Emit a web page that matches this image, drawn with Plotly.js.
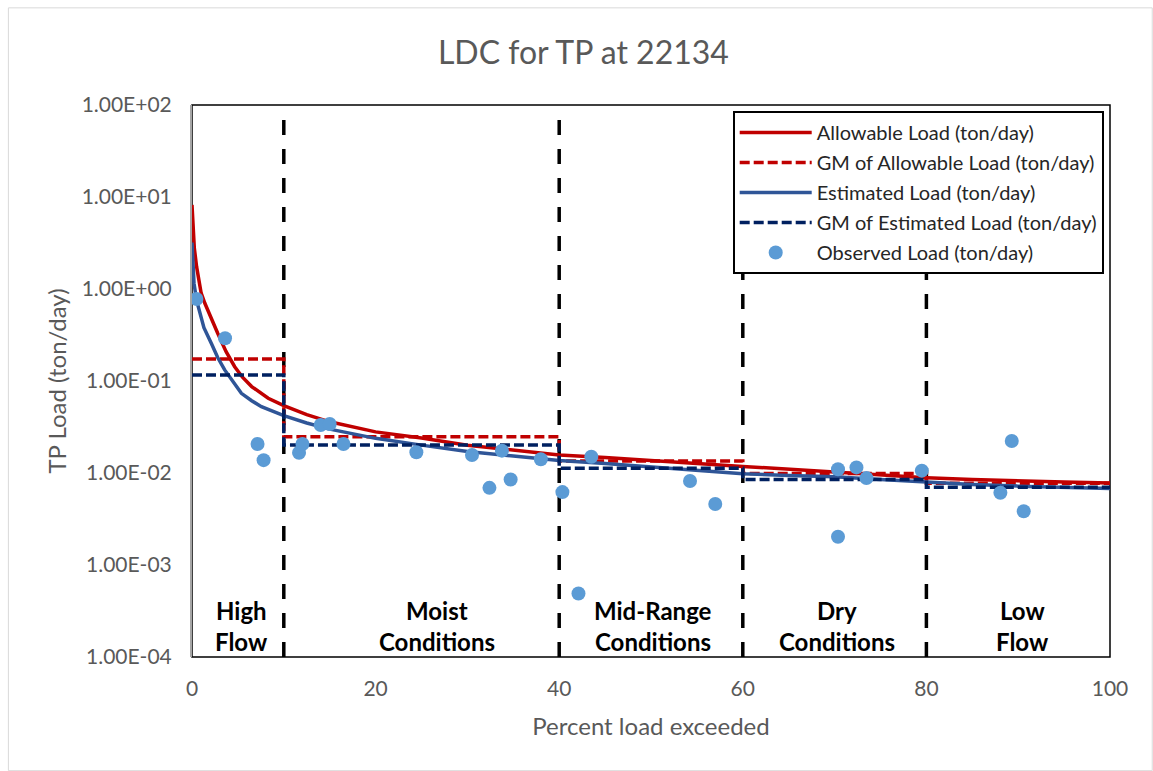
<!DOCTYPE html>
<html>
<head>
<meta charset="utf-8">
<script src="https://cdn.plot.ly/plotly-3.0.1.min.js"></script>
<style>html,body{margin:0;padding:0;background:#fff;}#chart{width:1153px;height:771px;}</style>
</head>
<body>
<div id="chart"></div>
<script>
// ---- data ----
const allowPct  = [0, 0.1, 0.25, 0.5, 1, 1.4, 2, 2.8, 3.7, 4.65, 5.5, 6.5, 8.3, 10, 12.5, 15, 20, 25, 30, 35, 40, 45, 50, 55, 60, 65, 70, 75, 80, 85, 90, 95, 100];
const allowLoad = [8.2, 4.5, 2.8, 1.75, 0.9, 0.70, 0.5, 0.33, 0.21, 0.143, 0.11, 0.087, 0.065, 0.054, 0.043, 0.036, 0.028, 0.024, 0.020, 0.0178, 0.0157, 0.0147, 0.0138, 0.0127, 0.0118, 0.0110, 0.0103, 0.0096, 0.0089, 0.0085, 0.0082, 0.0080, 0.0078];

const estPct  = [0, 0.1, 0.22, 0.5, 0.84, 1.3, 2.1, 2.8, 3.56, 4.4, 5.38, 6.5, 7.56, 10, 12.5, 15, 20, 25, 30, 35, 40, 45, 50, 55, 60, 65, 70, 75, 80, 85, 90, 95, 100];
const estLoad = [3.2, 1.9, 1.15, 0.75, 0.545, 0.38, 0.257, 0.18, 0.132, 0.10, 0.0734, 0.061, 0.0526, 0.042, 0.035, 0.030, 0.0238, 0.0201, 0.0171, 0.0153, 0.0137, 0.0127, 0.0117, 0.0107, 0.0098, 0.0094, 0.0091, 0.0085, 0.0079, 0.0075, 0.0072, 0.0070, 0.0068];

const zoneBounds = [0, 10, 40, 60, 80, 100];
const gmAllow = [0.173, 0.0248, 0.0135, 0.0099, 0.00773];
const gmEst   = [0.116, 0.0201, 0.01125, 0.0085, 0.0070];

const obsPct  = [0.48, 3.6, 7.14, 7.8, 11.66, 12.03, 14.02, 15.0, 16.5, 24.44, 30.5, 32.4, 33.76, 34.71, 38.0, 40.35, 42.1, 43.5, 54.25, 57.0, 70.37, 70.37, 72.38, 73.47, 79.5, 88.06, 89.3, 90.6];
const obsLoad = [0.78, 0.291, 0.0207, 0.0138, 0.0166, 0.0207, 0.0333, 0.0341, 0.0207, 0.0168, 0.0157, 0.0069, 0.0175, 0.0085, 0.0141, 0.0062, 0.00049, 0.0150, 0.0082, 0.0046, 0.0110, 0.00203, 0.0115, 0.0088, 0.0106, 0.0061, 0.0223, 0.00384];

const zoneLine1 = ['High', 'Moist', 'Mid-Range', 'Dry', 'Low'];
const zoneLine2 = ['Flow', 'Conditions', 'Conditions', 'Conditions', 'Flow'];
const zoneLabelX = [5.4, 26.7, 50.2, 70.3, 90.5];

const yTickVals = [1e-4, 1e-3, 1e-2, 1e-1, 1, 10, 100];
const yTickText = ['1.00E-04', '1.00E-03', '1.00E-02', '1.00E-01', '1.00E+00', '1.00E+01', '1.00E+02'];
const xTickVals = [0, 20, 40, 60, 80, 100];

// ---- build step lines for geometric means ----
function stepLine(vals) {
  const xs = [], ys = [];
  for (let i = 0; i < vals.length; i++) {
    xs.push(zoneBounds[i], zoneBounds[i + 1]);
    ys.push(vals[i], vals[i]);
  }
  return {x: xs, y: ys};
}
const gmA = stepLine(gmAllow), gmE = stepLine(gmEst);

const FONT = 'Lato, "Open Sans", sans-serif';
const GREY = '#595959';

const traces = [
  {x: allowPct, y: allowLoad, mode: 'lines', name: 'Allowable Load (ton/day)', legendgroup: 'a',
   line: {color: '#C00000', width: 3.5, shape: 'linear'}},
  {x: gmA.x, y: gmA.y, mode: 'lines', name: 'GM of Allowable Load (ton/day)', legendgroup: 'b',
   line: {color: '#C00000', width: 3.5, dash: '10px,4px'}},
  {x: estPct, y: estLoad, mode: 'lines', name: 'Estimated Load (ton/day)', legendgroup: 'c',
   line: {color: '#2F5597', width: 3.5, shape: 'linear'}},
  {x: gmE.x, y: gmE.y, mode: 'lines', name: 'GM of Estimated Load (ton/day)', legendgroup: 'd',
   line: {color: '#002060', width: 3.5, dash: '10px,4px'}},
  {x: obsPct, y: obsLoad, mode: 'markers', name: 'Observed Load (ton/day)', legendgroup: 'e',
   marker: {color: '#5B9BD5', size: 14}}
];

const shapes = [];
// chart-area frame
shapes.push({type: 'rect', xref: 'paper', yref: 'paper', x0: -0.2, x1: 1.046, y0: -0.206, y1: 1.176,
  line: {color: '#D9D9D9', width: 1}, layer: 'below'});
// plot-area border
shapes.push({type: 'rect', xref: 'paper', yref: 'paper', x0: 0, x1: 1, y0: 0, y1: 1,
  line: {color: '#000000', width: 1.5}, layer: 'below'});
// zone dividers
zoneBounds.slice(1, -1).forEach(b => {
  shapes.push({type: 'line', xref: 'x', yref: 'paper', x0: b, x1: b, y0: 0, y1: 0.977,
    line: {color: '#000000', width: 3.5, dash: '15px,14px'}, layer: 'below'});
});

const annotations = [];
zoneLabelX.forEach((x, i) => {
  annotations.push({x: x, xref: 'x', y: 0.0851, yref: 'paper', text: zoneLine1[i], showarrow: false,
    font: {family: FONT, size: 24, color: '#000000', weight: 'bold'}, xanchor: 'center', yanchor: 'middle'});
  annotations.push({x: x, xref: 'x', y: 0.0272, yref: 'paper', text: zoneLine2[i], showarrow: false,
    font: {family: FONT, size: 24, color: '#000000', weight: 'bold'}, xanchor: 'center', yanchor: 'middle'});
});

const layout = {
  width: 1153, height: 771,
  margin: {l: 192, r: 43, t: 105, b: 114},
  paper_bgcolor: '#ffffff', plot_bgcolor: '#ffffff',
  font: {family: FONT, color: GREY},
  title: {text: 'LDC for TP at 22134', font: {family: FONT, size: 32, color: GREY},
    x: 0.506, xanchor: 'center', y: 0.932, yref: 'container', yanchor: 'middle'},
  xaxis: {range: [0, 100], tickvals: xTickVals, showgrid: false, zeroline: false, showline: false,
    ticks: '', tickfont: {family: FONT, size: 21, color: GREY}, ticklabelstandoff: 17,
    title: {text: 'Percent load exceeded', font: {family: FONT, size: 24, color: GREY}, standoff: 19}},
  yaxis: {type: 'log', range: [-4, 2], tickvals: yTickVals, ticktext: yTickText, showgrid: false,
    zeroline: false, showline: true, linecolor: '#A6A6A6', linewidth: 2, ticks: '',
    tickfont: {family: FONT, size: 21, color: GREY}, ticklabelstandoff: 14,
    title: {text: 'TP Load (ton/day)', font: {family: FONT, size: 24, color: GREY}, standoff: 8}},
  legend: {x: 0.589, y: 0.989, xanchor: 'left', yanchor: 'top', bgcolor: '#ffffff',
    bordercolor: '#000000', borderwidth: 2, font: {family: FONT, size: 20, color: '#262626'},
    itemwidth: 72, traceorder: 'grouped', tracegroupgap: 1},
  shapes: shapes,
  annotations: annotations,
  showlegend: true
};

Plotly.newPlot('chart', traces, layout, {displayModeBar: false, staticPlot: true});
</script>
</body>
</html>
